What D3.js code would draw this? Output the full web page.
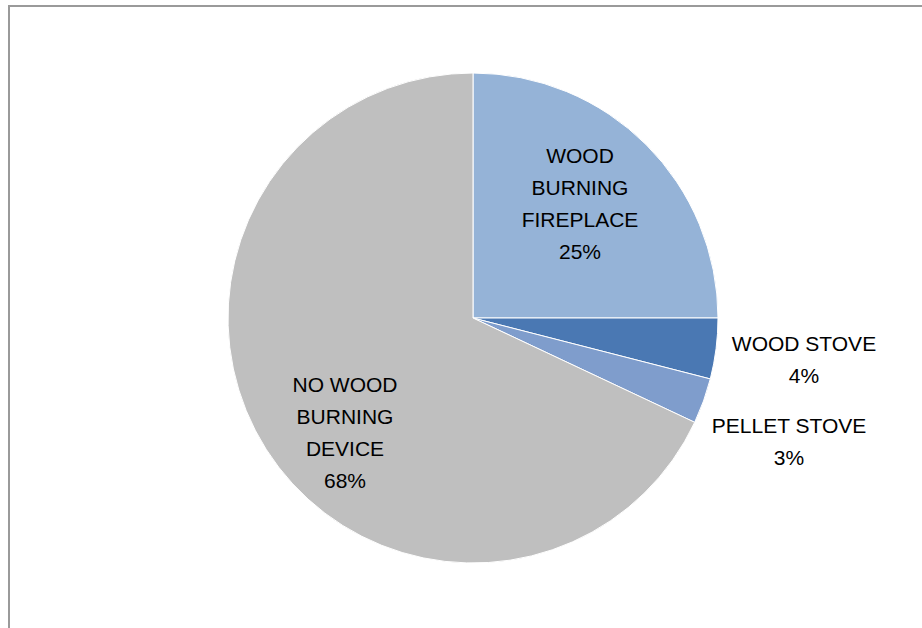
<!DOCTYPE html>
<html>
<head>
<meta charset="utf-8">
<script src="https://cdn.jsdelivr.net/npm/d3@7"></script>
<style>
  html, body { margin: 0; padding: 0; background: #fff; }
  svg { display: block; }
  text { font-family: "Liberation Sans", Arial, sans-serif; font-size: 21px; fill: #000; }
</style>
</head>
<body>
<script>
// Household wood-burning devices
const categories = ["WOOD BURNING FIREPLACE", "WOOD STOVE", "PELLET STOVE", "NO WOOD BURNING DEVICE"];
const values = [25, 4, 3, 68];
const labelLines = [
  ["WOOD", "BURNING", "FIREPLACE"],
  ["WOOD STOVE"],
  ["PELLET STOVE"],
  ["NO WOOD", "BURNING", "DEVICE"]
];
const colors = ["#95B3D7", "#4A78B3", "#7F9DCC", "#BFBFBF"];

const W = 922, H = 628;
const cx = 473, cy = 318, R = 245;

const svg = d3.select("body").append("svg").attr("width", W).attr("height", H);

// chart frame (left and top edges visible)
svg.append("rect")
  .attr("x", 9).attr("y", 6).attr("width", W + 10).attr("height", H + 10)
  .attr("fill", "#fff").attr("stroke", "#9a9a9a").attr("stroke-width", 2);

const data = categories.map((c, i) => ({ name: c, value: values[i], lines: labelLines[i], color: colors[i] }));

const pie = d3.pie().value(d => d.value).sort(null);
const arc = d3.arc().innerRadius(0).outerRadius(R);
const arcs = pie(data);

const g = svg.append("g").attr("transform", `translate(${cx},${cy})`);

g.selectAll("path.slice")
  .data(arcs)
  .join("path")
  .attr("class", "slice")
  .attr("d", arc)
  .attr("fill", d => d.data.color)
  .attr("stroke", "#ffffff")
  .attr("stroke-width", 1);

// label block centres (x) and first baseline (y), relative to the pie centre
const labelPos = [
  [107, -155],   // fireplace, inside
  [331, 33],     // wood stove, outside right
  [316, 115],    // pellet stove, outside right
  [-128, 74]     // no wood burning device, inside
];
const lineH = 32;

arcs.forEach((a, i) => {
  const lines = a.data.lines.concat([a.data.value + "%"]);
  const [x, y] = labelPos[i];
  const t = g.append("text").attr("text-anchor", "middle");
  lines.forEach((ln, k) => {
    t.append("tspan")
      .attr("x", x)
      .attr("y", y + k * lineH)
      .text(ln);
  });
});
</script>
</body>
</html>
